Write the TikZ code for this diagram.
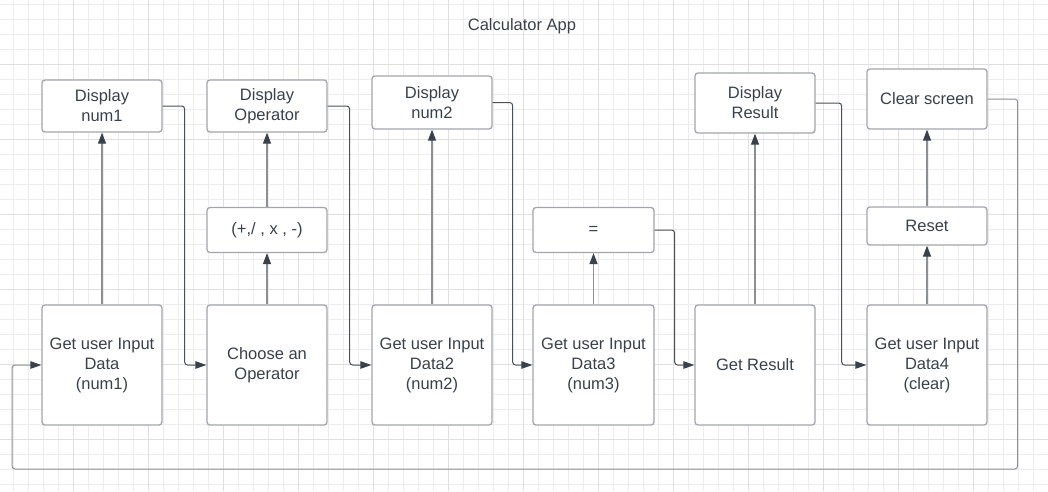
\documentclass[tikz,border=0pt]{standalone}
\usepackage{fontspec}
\setmainfont{Liberation Sans}
\usetikzlibrary{arrows.meta,calc}
\definecolor{txt}{HTML}{3A414A}
\definecolor{bord}{HTML}{A3A5AA}
\definecolor{minorg}{HTML}{EDEDED}
\definecolor{majorg}{HTML}{E0E0E0}
\definecolor{conn}{HTML}{4A5058}
\definecolor{vconn}{HTML}{8C8F94}
\tikzset{
  box/.style={draw=bord, line width=1.3pt, rounded corners=3pt, fill=white,
    text=txt, align=center, inner sep=0pt, minimum width=120pt,
    font=\fontsize{16.5}{20}\selectfont},
  elbow/.style={draw=conn, line width=1pt, rounded corners=3pt,
    -{Triangle[length=11pt,width=7.5pt,color=txt]}},
  vert/.style={draw=vconn, line width=1.3pt,
    -{Triangle[length=11pt,width=8pt,color=txt]}},
}
\begin{document}
\begin{tikzpicture}[x=1pt,y=-1pt]
\useasboundingbox (0,0) rectangle (1048,491);
\fill[white] (0,0) rectangle (1048,491);
% grid
\foreach \x in {13,28,...,1048} \draw[minorg,line width=1pt] (\x,0) -- (\x,491);
\foreach \y in {4,19,...,491} \draw[minorg,line width=1pt] (0,\y) -- (1048,\y);
\foreach \x in {73,148,...,1048} \draw[majorg,line width=1pt] (\x,0) -- (\x,491);
\foreach \y in {64,139,...,491} \draw[majorg,line width=1pt] (0,\y) -- (1048,\y);
% title
\node[text=txt,font=\fontsize{16.5}{20}\selectfont] (title) at (522,26.5) {Calculator App};
% boxes
\node[box,minimum height=52pt] (d1) at (102,106) {Display\\num1};
\node[box,minimum height=120pt] (g1) at (102,365) {Get user Input\\Data\\(num1)};
\node[box,minimum height=52pt] (d2) at (267,106) {Display\\Operator};
\node[box,minimum height=45pt] (op) at (267,230) {(+,/ , x , -)};
\node[box,minimum height=120pt] (g2) at (267,365) {Choose an\\Operator};
\node[box,minimum height=53pt] (d3) at (432,102.5) {Display\\num2};
\node[box,minimum height=120pt] (g3) at (432,365) {Get user Input\\Data2\\(num2)};
\node[box,minimum height=45pt,minimum width=121pt] (eq) at (593.5,230) {=};
\node[box,minimum height=120pt,minimum width=121pt] (g4) at (593.5,365) {Get user Input\\Data3\\(num3)};
\node[box,minimum height=60pt] (d5) at (755,103) {Display\\Result};
\node[box,minimum height=120pt] (g5) at (755,365) {Get Result};
\node[box,minimum height=60pt] (d6) at (927,99) {Clear screen};
\node[box,minimum height=38pt] (rs) at (927,226) {Reset};
\node[box,minimum height=120pt] (g6) at (927,365) {Get user Input\\Data4\\(clear)};
% vertical arrows
\draw[vert] (g1.north) -- (d1.south);
\draw[vert] (g2.north) -- (op.south);
\draw[vert] (op.north) -- (d2.south);
\draw[vert] (g3.north) -- (d3.south);
\draw[vert] (g4.north) -- (eq.south);
\draw[vert] (g5.north) -- (d5.south);
\draw[vert] (g6.north) -- (rs.south);
\draw[vert] (rs.north) -- (d6.south);
% elbow connectors
\draw[elbow] (d1.east) -- ++(22,0) |- (g2.west);
\draw[elbow] (d2.east) -- ++(22,0) |- (g3.west);
\draw[elbow] (d3.east) -- ++(20,0) |- (g4.west);
\draw[elbow] (eq.east) -- ++(20,0) |- (g5.west);
\draw[elbow] (d5.east) -- ++(26,0) |- (g6.west);
\coordinate (lp) at (12,365);
\draw[elbow,draw=vconn] (d6.east) -- ++(30,0) -- ++(0,370) -| (lp) -- (g1.west);
\end{tikzpicture}
\end{document}
